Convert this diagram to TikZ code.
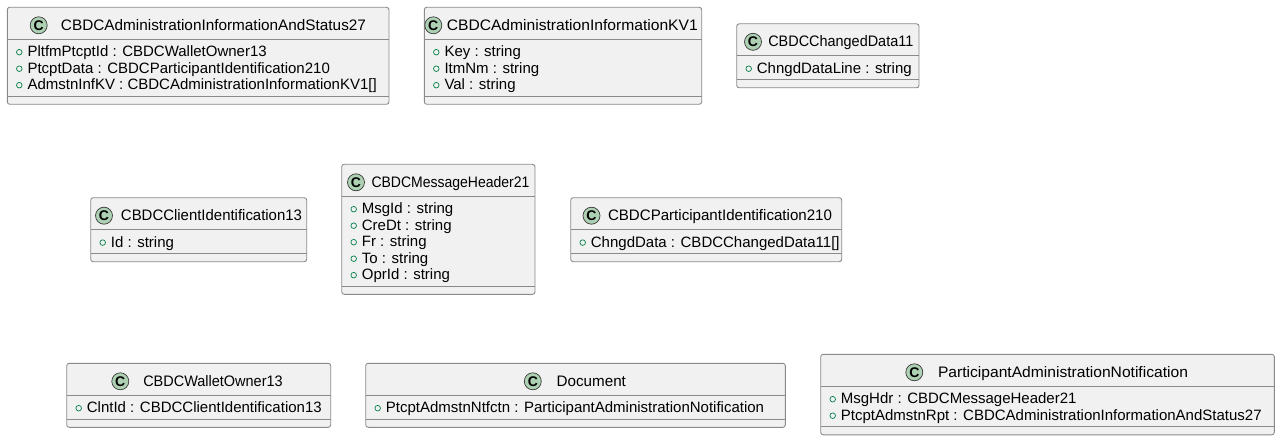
\documentclass[tikz,border=0pt]{standalone}
\usepackage{fontspec}
\setmainfont{Liberation Sans}
\usetikzlibrary{fit}
\definecolor{boxfill}{HTML}{F1F1F1}
\definecolor{linec}{HTML}{8A8A8A}
\definecolor{spotline}{HTML}{3A3A3A}
\definecolor{spotfill}{HTML}{ADD1B2}
\definecolor{visgreen}{HTML}{038048}
\tikzset{
  cbox/.style={draw=linec, fill=boxfill, line width=0.9pt, rounded corners=2.5pt, inner sep=0pt},
  sepline/.style={draw=linec, line width=0.9pt},
  spot/.style={circle, draw=spotline, fill=spotfill, line width=0.7pt, minimum size=17pt, inner sep=0pt,
    font=\fontsize{14}{14}\selectfont\bfseries},
  ctitle/.style={anchor=base, inner sep=0pt, font=\fontsize{15.2}{16}\selectfont},
  member/.style={anchor=base west, inner sep=0pt, font=\fontsize{15}{16}\selectfont},
  vis/.style={circle, draw=visgreen, line width=0.7pt, minimum size=5.6pt, inner sep=0pt},
}
% #1 name, #2 left, #3 right, #4 top, #5 number of members, #6 spot centre x, #7 title centre x, #8 title width, #9 title
\newcommand{\umlclass}[9]{%
  \pgfmathsetmacro{\yhs}{#4+32}%
  \pgfmathsetmacro{\ybs}{#4+32+7.5+16.5*#5}%
  \pgfmathsetmacro{\ybot}{\ybs+8}%
  \xdef\curleft{#2}%
  \xdef\curname{#1}%
  \xdef\curhs{\yhs}%
  \coordinate (#1-nw) at (#2,#4);
  \coordinate (#1-se) at (#3,\ybot);
  \node[cbox, fit=(#1-nw)(#1-se)] (#1) {};
  \draw[sepline] (#2,\yhs) -- (#3,\yhs);
  \draw[sepline] (#2,\ybs) -- (#3,\ybs);
  \node[spot] (#1-spot) at (#6,#4+18) {C};
  \node[ctitle] (#1-title) at (#7,#4+23) {\resizebox{#8pt}{\height}{#9}};
}
\newcommand{\umlmembers}[1]{%
  \foreach \m [count=\i] in {#1} {
    \pgfmathsetmacro{\yb}{\curhs+17.5+16.5*(\i-1)}
    \node[vis] (\curname-v\i) at (\curleft+12,\yb-4.6) {};
    \node[member] (\curname-m\i) at (\curleft+20,\yb) {\m};
  }
}
\begin{document}
\begin{tikzpicture}[x=1pt,y=-1pt]
\useasboundingbox (0,0) rectangle (1280,441);
\fill[white] (0,0) rectangle (1280,441);
\umlclass{a1}{7.3}{389}{7.3}{3}{38.7}{213.5}{305}{CBDCAdministrationInformationAndStatus27}
\umlmembers{{PltfmPtcptId : CBDCWalletOwner13},{PtcptData : CBDCParticipantIdentification210},{AdmstnInfKV : CBDCAdministrationInformationKV1[]}}
\umlclass{a2}{424.3}{701.7}{7.3}{3}{433.3}{572.3}{251}{CBDCAdministrationInformationKV1}
\umlmembers{{Key : string},{ItmNm : string},{Val : string}}
\umlclass{a3}{736.7}{919}{23.8}{1}{753}{840.8}{145}{CBDCChangedData11}
\umlmembers{{ChngdDataLine : string}}
\umlclass{a4}{90.7}{306.7}{197.7}{1}{104}{211.5}{181}{CBDCClientIdentification13}
\umlmembers{{Id : string}}
\umlclass{a5}{341.7}{535}{164.3}{5}{356}{450.5}{158}{CBDCMessageHeader21}
\umlmembers{{MsgId : string},{CreDt : string},{Fr : string},{To : string},{OprId : string}}
\umlclass{a6}{570.7}{841.7}{197.7}{1}{591.5}{720}{224}{CBDCParticipantIdentification210}
\umlmembers{{ChngdData : CBDCChangedData11[]}}
\umlclass{a7}{66.7}{330.7}{363.3}{1}{120.3}{213}{139.4}{CBDCWalletOwner13}
\umlmembers{{ClntId : CBDCClientIdentification13}}
\umlclass{a8}{365.7}{785.3}{363.3}{1}{532.8}{591.3}{69.3}{Document}
\umlmembers{{PtcptAdmstnNtfctn : ParticipantAdministrationNotification}}
\umlclass{a9}{820.7}{1274.3}{354.3}{2}{914.3}{1063}{250}{ParticipantAdministrationNotification}
\umlmembers{{MsgHdr : CBDCMessageHeader21},{PtcptAdmstnRpt : CBDCAdministrationInformationAndStatus27}}
\end{tikzpicture}
\end{document}
